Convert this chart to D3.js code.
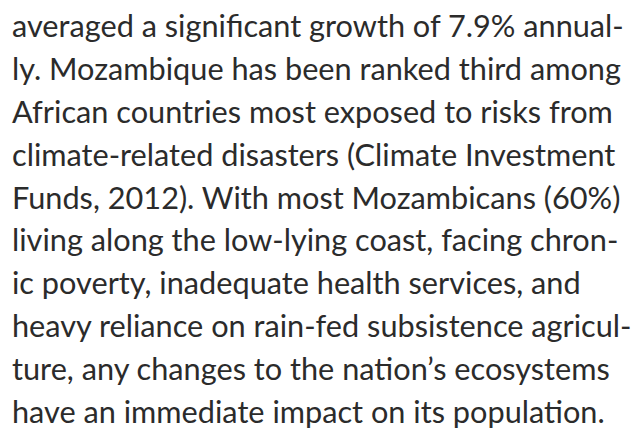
<!DOCTYPE html>
<html>
<head>
<meta charset="utf-8">
<script src="https://cdn.jsdelivr.net/npm/d3@7"></script>
<style>
  body { margin: 0; background: #fff; }
  svg { display: block; }
</style>
</head>
<body>
<svg></svg>
<script>
// paragraph lines, as hyphenated in the source
const lines = [
    "averaged a significant growth of 7.9% annual-",
    "ly. Mozambique has been ranked third among",
    "African countries most exposed to risks from",
    "climate-related disasters (Climate Investment",
    "Funds, 2012). With most Mozambicans (60%)",
    "living along the low-lying coast, facing chron-",
    "ic poverty, inadequate health services, and",
    "heavy reliance on rain-fed subsistence agricul-",
    "ture, any changes to the nation\u2019s ecosystems",
    "have an immediate impact on its population."
];

const width = 638, height = 428;
const left = 12, firstLineWidth = 612; // width of the first line in the source

const svg = d3.select("svg")
    .attr("width", width)
    .attr("height", height);

// line index -> baseline
const y = d3.scaleLinear()
    .domain([0, lines.length - 1])
    .range([37, 423]);

const text = svg.selectAll("text")
    .data(lines)
    .enter().append("text")
    .attr("x", left)
    .attr("y", (d, i) => y(i))
    .attr("font-family", "Lato, sans-serif")
    .attr("font-size", 30)
    .attr("fill", "#2b2b2b")
    .text(d => d);

// scale the font so the first line spans the same width as the source
const w0 = text.node().getComputedTextLength();
text.attr("font-size", 30 * firstLineWidth / w0);
</script>
</body>
</html>
